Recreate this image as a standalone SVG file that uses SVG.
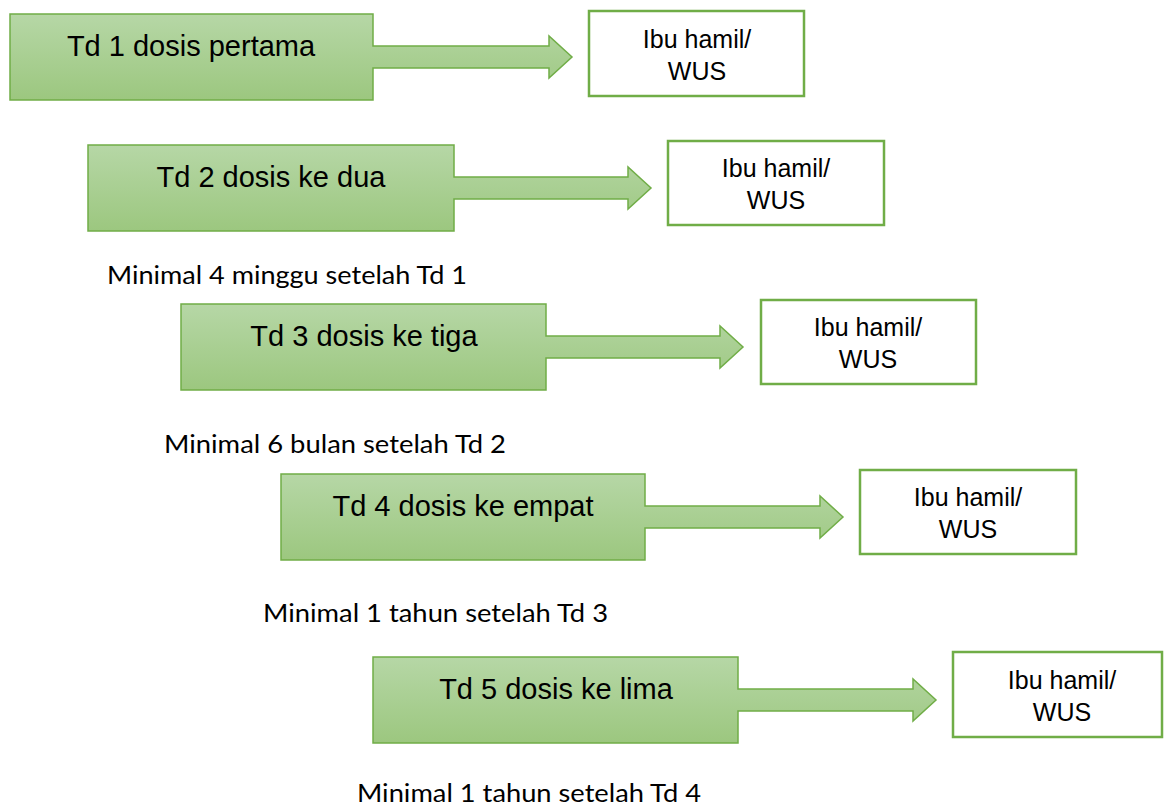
<svg xmlns="http://www.w3.org/2000/svg" width="1164" height="808" viewBox="0 0 1164 808">
  <defs>
    <linearGradient id="g" x1="0" y1="0" x2="0" y2="1">
      <stop offset="0" stop-color="#b6d7a6"/>
      <stop offset="1" stop-color="#9cc77f"/>
    </linearGradient>
  </defs>
  <style>
    .arrow { fill: url(#g); stroke: #70ad47; stroke-width: 1.5; }
    .box { fill: #ffffff; stroke: #70ad47; stroke-width: 2.5; }
    .lbl { font-family: "Liberation Sans", Arial, sans-serif; font-size: 29px; fill: #000; text-anchor: middle; }
    .tgt { font-family: "Liberation Sans", Arial, sans-serif; font-size: 25px; fill: #000; text-anchor: middle; }
    .note { font-family: Lato, "Liberation Sans", Arial, sans-serif; font-size: 25.5px; fill: #000; }
  </style>
  <g id="connectors"></g>

  <g id="td1" transform="translate(10,14)">
    <path class="arrow" d="M0,0 H363 V32 H539 V22 L562,43 L539,64 V54 H363 V86 H0 Z"/>
    <text class="lbl" x="181" y="42">Td 1 dosis pertama</text>
  </g>
  <g id="wus1">
    <rect class="box" x="589" y="11" width="215" height="85"/>
    <text class="tgt" x="697" y="48">Ibu hamil/</text>
    <text class="tgt" x="697" y="80">WUS</text>
  </g>

  <g id="td2" transform="translate(88,145)">
    <path class="arrow" d="M0,0 H366 V32 H540 V22 L563,43 L540,64 V54 H366 V86 H0 Z"/>
    <text class="lbl" x="183" y="42">Td 2 dosis ke dua</text>
  </g>
  <g id="wus2">
    <rect class="box" x="668" y="141" width="216" height="84"/>
    <text class="tgt" x="776" y="177">Ibu hamil/</text>
    <text class="tgt" x="776" y="209">WUS</text>
  </g>
  <text id="note1" class="note" x="107" y="284" textLength="360" lengthAdjust="spacingAndGlyphs">Minimal 4 minggu setelah Td 1</text>

  <g id="td3" transform="translate(181,304)">
    <path class="arrow" d="M0,0 H365 V32 H539 V22 L562,43 L539,64 V54 H365 V86 H0 Z"/>
    <text class="lbl" x="183" y="42">Td 3 dosis ke tiga</text>
  </g>
  <g id="wus3">
    <rect class="box" x="761" y="300" width="215" height="84"/>
    <text class="tgt" x="868" y="336">Ibu hamil/</text>
    <text class="tgt" x="868" y="368">WUS</text>
  </g>
  <text id="note2" class="note" x="164" y="453" textLength="342" lengthAdjust="spacingAndGlyphs">Minimal 6 bulan setelah Td 2</text>

  <g id="td4" transform="translate(281,474)">
    <path class="arrow" d="M0,0 H364 V32 H539 V22 L562,43 L539,64 V54 H364 V86 H0 Z"/>
    <text class="lbl" x="182" y="42">Td 4 dosis ke empat</text>
  </g>
  <g id="wus4">
    <rect class="box" x="860" y="470" width="216" height="84"/>
    <text class="tgt" x="968" y="506">Ibu hamil/</text>
    <text class="tgt" x="968" y="538">WUS</text>
  </g>
  <text id="note3" class="note" x="263" y="622" textLength="345" lengthAdjust="spacingAndGlyphs">Minimal 1 tahun setelah Td 3</text>

  <g id="td5" transform="translate(373,657)">
    <path class="arrow" d="M0,0 H365 V32 H540 V22 L563,43 L540,64 V54 H365 V86 H0 Z"/>
    <text class="lbl" x="183" y="42">Td 5 dosis ke lima</text>
  </g>
  <g id="wus5">
    <rect class="box" x="953" y="652" width="209" height="85"/>
    <text class="tgt" x="1062" y="689">Ibu hamil/</text>
    <text class="tgt" x="1062" y="721">WUS</text>
  </g>
  <text id="note4" class="note" x="357" y="802" textLength="344" lengthAdjust="spacingAndGlyphs">Minimal 1 tahun setelah Td 4</text>
</svg>
